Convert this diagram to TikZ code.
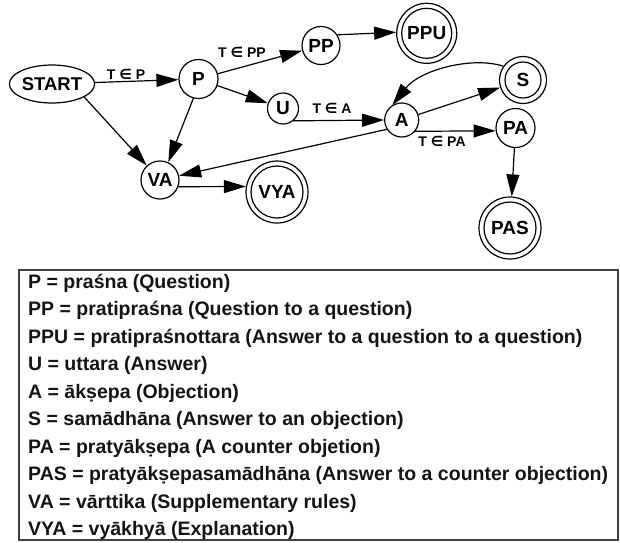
\documentclass[tikz,border=0pt]{standalone}
\usepackage{fontspec}
\setmainfont{Liberation Sans}
\newfontfamily\symfont{DejaVu Sans}
\usetikzlibrary{arrows.meta,shapes.geometric}
\newcommand\elemsym{{\symfont ∈}}
\begin{document}
\begin{tikzpicture}[x=1pt,y=-1pt,
  every node/.style={inner sep=0pt},
  nd/.style={circle,draw,line width=1.2pt,minimum size=#1,font=\bfseries\fontsize{19}{19}\selectfont},
  ring/.style={circle,draw,line width=1.2pt,minimum size=#1},
  lbl/.style={font=\bfseries\fontsize{14}{14}\selectfont},
  arr/.style={line width=1.2pt,-{Triangle[length=22pt,width=13pt]}},
  leg/.style={anchor=base west,font=\bfseries\fontsize{19.5}{19.5}\selectfont,text=black!92},
  legendbox/.style={draw=black!75,line width=1.8pt}
]
\useasboundingbox (0,0) rectangle (620,542);

% nodes
\node[ellipse,draw,line width=1.2pt,minimum width=78,minimum height=38,font=\bfseries\fontsize{18.5}{18.5}\selectfont] (START) at (52,84) {START};
\node[nd=39] (P) at (198.5,79) {P};
\node[nd=38] (PP) at (321,45.5) {PP};
\node[nd=60] (PPU) at (426.7,33.3) {PPU};
\node[ring=50] (PPUi) at (PPU) {};
\node[nd=31] (U) at (283,108.5) {U};
\node[nd=34] (A) at (401.7,120) {A};
\node[nd=47] (S) at (523,80) {S};
\node[ring=36] (Si) at (S) {};
\node[nd=39] (PA) at (515.5,128) {PA};
\node[nd=62] (PAS) at (510,228) {PAS};
\node[ring=52] (PASi) at (PAS) {};
\node[nd=38] (VA) at (160,180) {VA};
\node[nd=62] (VYA) at (277,192) {VYA};
\node[ring=52] (VYAi) at (VYA) {};

% edges
\draw[arr] (START) -- (P);
\draw[arr] (START.-22) -- (VA);
\draw[arr] (P.-105) -- (VA.65);
\draw[arr] (P) -- (PP);
\draw[arr] (PP.33) -- (PPU.178);
\draw[arr] (P) -- (U);
\draw[arr] (U.-50) -- (A.west);
\draw[arr] (A) -- (S);
\draw[arr] (S.145) .. controls (472,56) and (420,70) .. (A.122);
\draw[arr] (A.-40) -- (PA.188);
\draw[arr] (A.-148) -- (VA);
\draw[arr] (VA.-20) -- (VYA.170);
\draw[arr] (PA) -- (PAS);

% edge labels
\node[lbl] (lP) at (126,74) {T \elemsym{} P};
\node[lbl] (lPP) at (242,52) {T \elemsym{} PP};
\node[lbl] (lA) at (332,108) {T \elemsym{} A};
\node[lbl] (lPA) at (442,141) {T \elemsym{} PA};

% legend
\draw[legendbox] (19,270) rectangle (618,540);
\node[leg] (L1) at (28,288) {P = praśna (Question)};
\node[leg] (L2) at (28,315.5) {PP = pratipraśna (Question to a question)};
\node[leg] (L3) at (28,343) {PPU = pratipraśnottara (Answer to a question to a question)};
\node[leg] (L4) at (28,370.5) {U = uttara (Answer)};
\node[leg] (L5) at (28,398) {A = ākṣepa (Objection)};
\node[leg] (L6) at (28,425.5) {S = samādhāna (Answer to an objection)};
\node[leg] (L7) at (28,453) {PA = pratyākṣepa (A counter objetion)};
\node[leg] (L8) at (28,480.5) {PAS = pratyākṣepasamādhāna (Answer to a counter objection)};
\node[leg] (L9) at (28,508) {VA = vārttika (Supplementary rules)};
\node[leg] (L10) at (28,535.5) {VYA = vyākhyā (Explanation)};
\end{tikzpicture}
\end{document}
